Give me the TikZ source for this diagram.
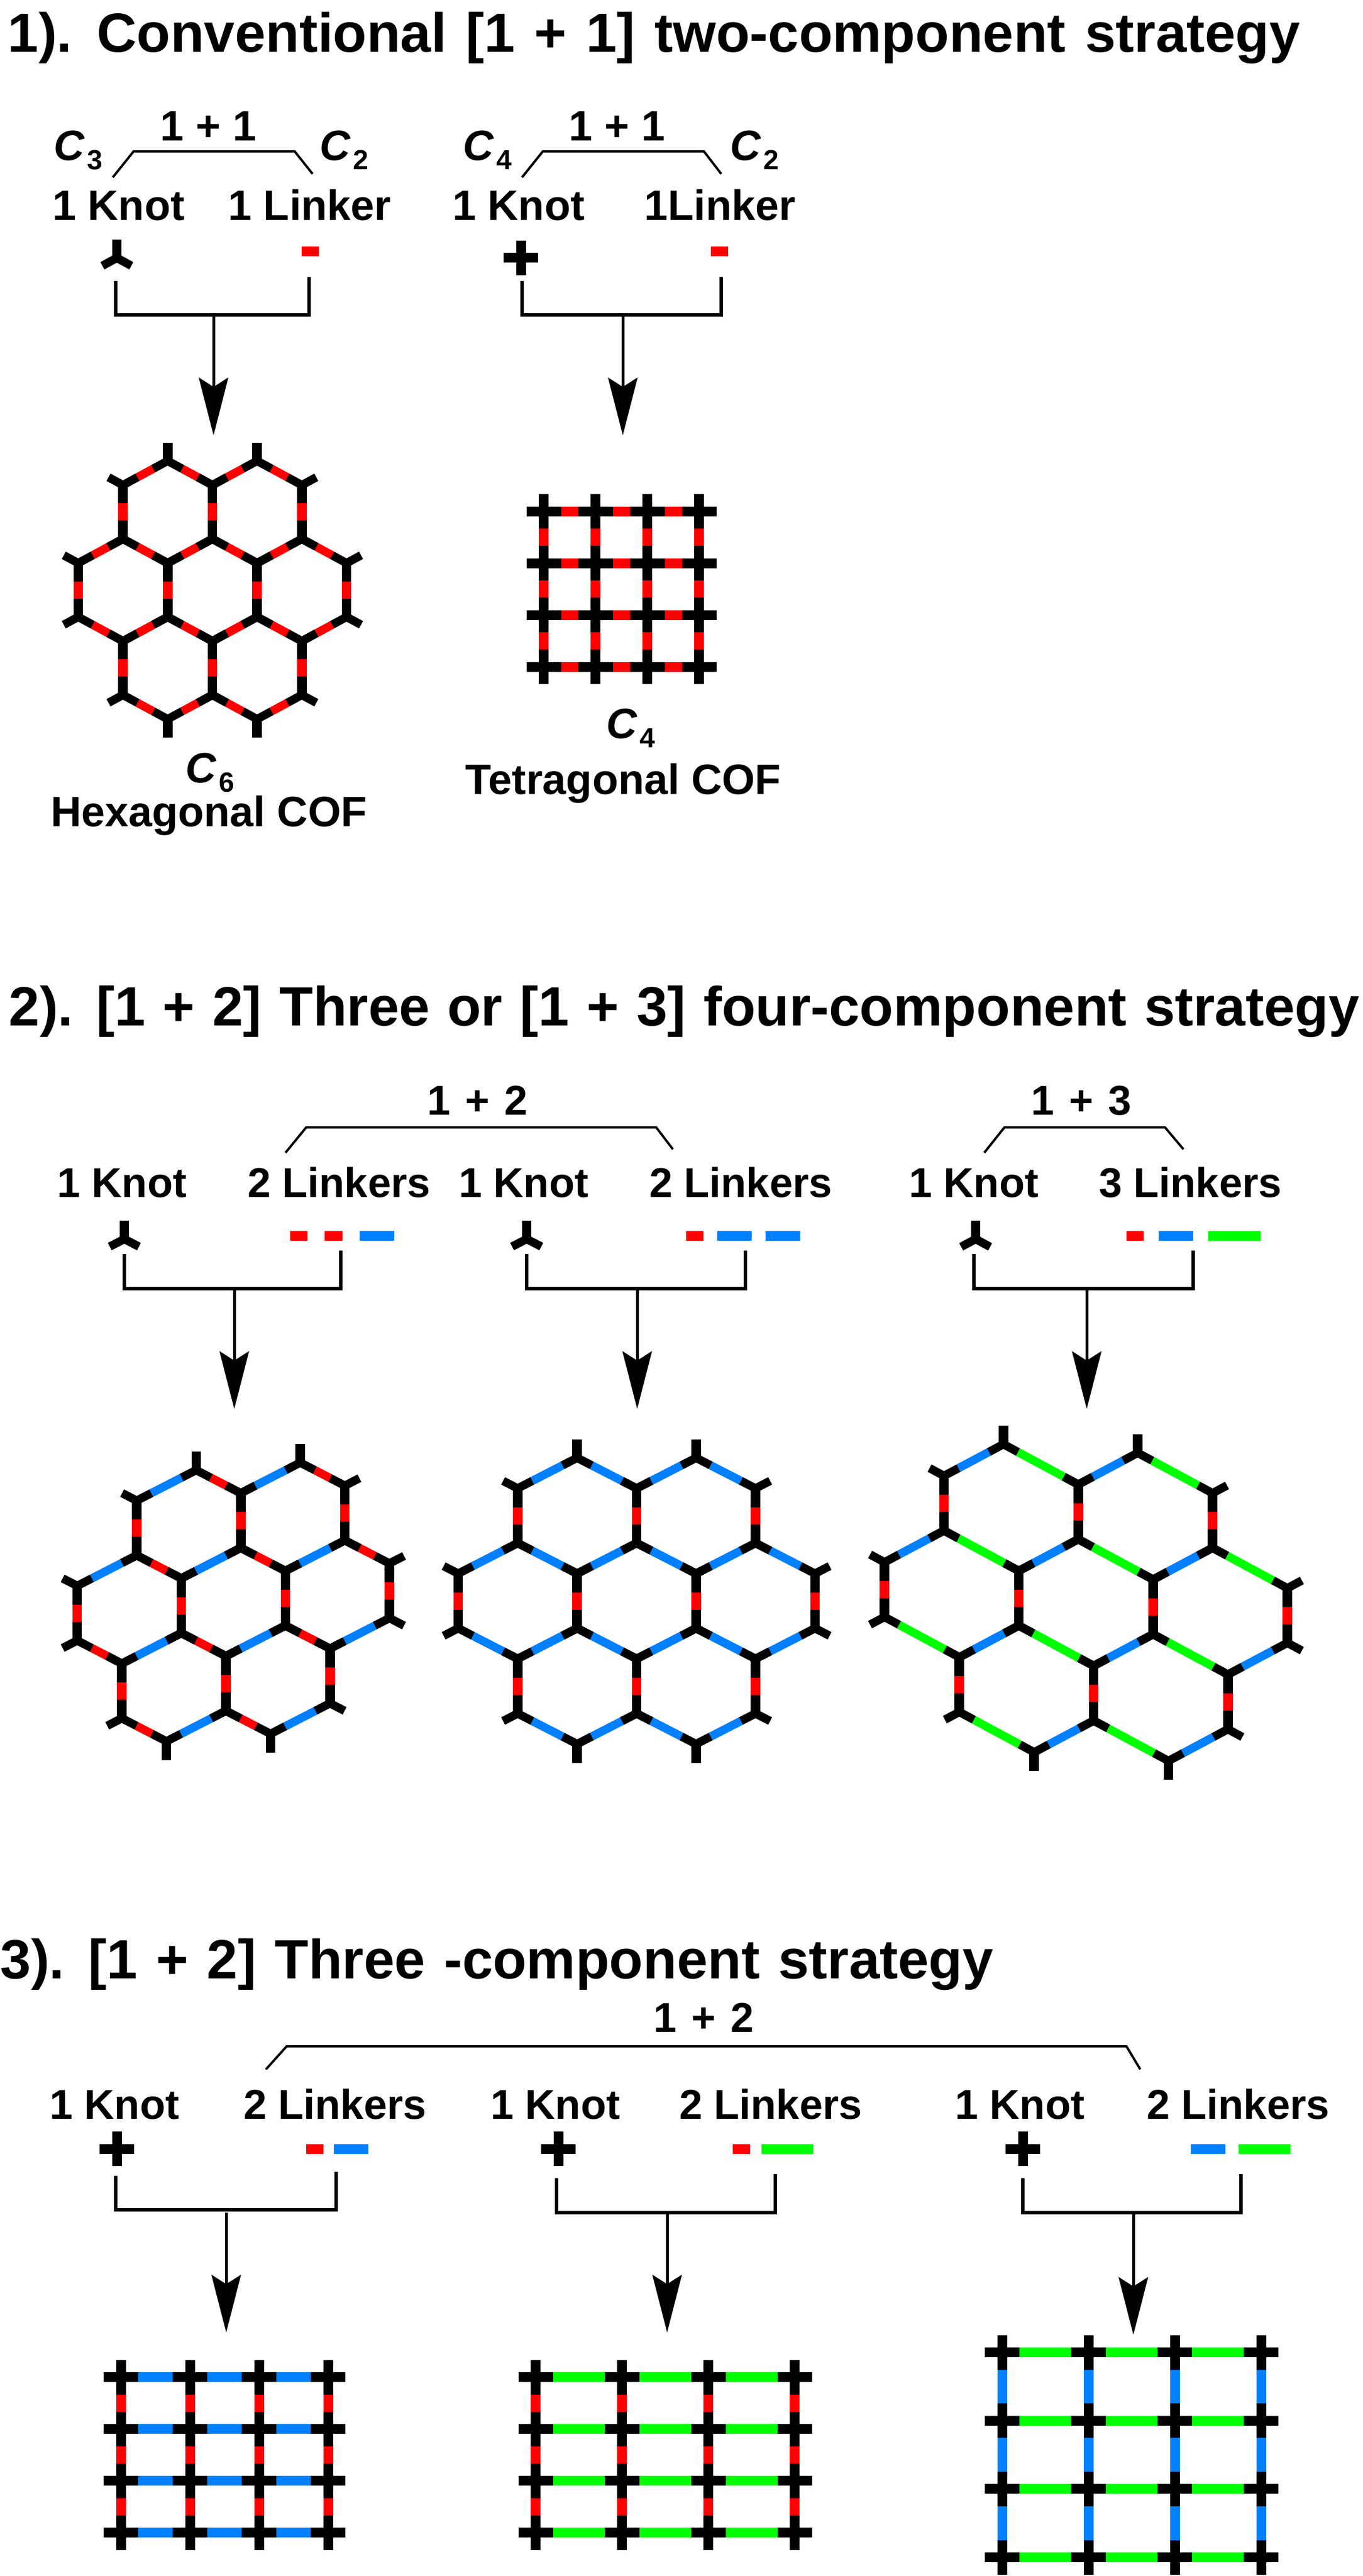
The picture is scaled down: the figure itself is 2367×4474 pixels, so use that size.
\documentclass[tikz,border=0pt]{standalone}
\usepackage{fontspec}
\setmainfont{Liberation Sans}
\usetikzlibrary{arrows.meta,calc}
\definecolor{lkred}{RGB}{255,0,0}
\definecolor{lkblue}{RGB}{0,128,255}
\definecolor{lkgreen}{RGB}{0,255,0}
\tikzstyle{headline}=[font=\fontsize{27.3}{30}\selectfont\bfseries,anchor=base west,inner sep=0pt]
\tikzstyle{tag}=[font=\fontsize{21}{24}\selectfont\bfseries,anchor=base,inner sep=0pt]
\tikzstyle{smalltag}=[tag,font=\fontsize{20.6}{24}\selectfont\bfseries]
\tikzstyle{sumtag}=[tag,font=\fontsize{20.6}{24}\selectfont\bfseries\spaceskip 7.3pt\relax]
\tikzstyle{symtag}=[tag,anchor=base west]
\tikzstyle{brace} = [draw,line width=.4mm]
\tikzstyle{tie} = [draw,line width=.55mm]
\tikzstyle{flow} = [draw,line width=.5mm,-{Stealth[length=10mm,width=5.1mm,inset=1.6mm]}]
\tikzstyle{slant}=[line width=1.45mm,line cap=butt,line join=miter]
\tikzstyle{joint}=[line width=1.65mm,line cap=butt]
\tikzstyle{bar}=[line width=1.7mm,line cap=butt]
\tikzstyle{piece}=[line width=1.7mm]
% C symbol with its index
\newcommand{\csym}[1]{{\itshape C}\kern.4mm\raisebox{-1.6mm}{\fontsize{13.7}{14}\selectfont #1}}
% edge vectors of the honeycomb: a=(#1,-#2), b=(#3,#4), c=(0,#5)
\newcommand{\setlat}[5]{%
    \def\ax{#1}\def\ay{#2}\def\bx{#3}\def\by{#4}\def\cy{#5}%
    \pgfmathsetmacro\kax{28.5*#1/veclen(#1,#2)}\pgfmathsetmacro\kay{28.5*#2/veclen(#1,#2)}%
    \pgfmathsetmacro\kbx{28.5*#3/veclen(#3,#4)}\pgfmathsetmacro\kby{28.5*#4/veclen(#3,#4)}%
    \pgfmathsetmacro\kc{(#5-30)/2}%
}
\newcommand{\upknot}[2]{%
    \draw[slant] (#1-\kax,#2+\kay) -- (#1,#2) -- (#1+\kbx,#2+\kby);
    \draw[joint] (#1,#2) -- (#1,#2-\kc);
}
\newcommand{\downknot}[2]{%
    \draw[slant] (#1+\kax,#2-\kay) -- (#1,#2) -- (#1-\kbx,#2-\kby);
    \draw[joint] (#1,#2) -- (#1,#2+\kc);
}
\newcommand{\alink}[3]{\draw[slant,#3] (#1+\kax,#2-\kay) -- (#1+\ax-\kax,#2-\ay+\kay);}
\newcommand{\blink}[3]{\draw[slant,#3] (#1+\kbx,#2+\kby) -- (#1+\bx-\kbx,#2+\by-\kby);}
\newcommand{\clink}[2]{\draw[joint,lkred] (#1,#2+\kc) -- (#1,#2+\cy-\kc);}
% one hexagon from its top vertex
\newcommand{\hexcell}[4]{%
    \pgfmathsetmacro\lx{#1-\ax}\pgfmathsetmacro\ly{#2+\ay}%
    \pgfmathsetmacro\rx{#1+\bx}\pgfmathsetmacro\ry{#2+\by}%
    \pgfmathsetmacro\lly{\ly+\cy}\pgfmathsetmacro\rly{\ry+\cy}%
    \pgfmathsetmacro\mx{\lx+\bx}\pgfmathsetmacro\my{\lly+\by}%
    \alink{\lx}{\ly}{#3} \alink{\mx}{\my}{#3}
    \blink{#1}{#2}{#4} \blink{\lx}{\lly}{#4}
    \clink{\lx}{\ly} \clink{\rx}{\ry}
    \upknot{#1}{#2} \upknot{\rx}{\rly} \upknot{\lx}{\lly}
    \downknot{\lx}{\ly} \downknot{\rx}{\ry} \downknot{\mx}{\my}
}
% seven hexagons around the top vertex (#1,#2) of the middle one
\newcommand{\hexnet}[4]{%
    \foreach \p/\q in {0/0,-1/0,1/0,0/-1,1/-1,-1/1,0/1}{
        \pgfmathsetmacro\tx{#1+\p*(\ax+\bx)+\q*\bx}
        \pgfmathsetmacro\ty{#2+\p*(\by-\ay)+\q*(\by+\cy)}
        \hexcell{\tx}{\ty}{#3}{#4}
    }
}
\newcommand{\plusknot}[2]{%
    \draw[bar] (#1-30,#2) -- (#1+30,#2);
    \draw[bar] (#1,#2-30) -- (#1,#2+30);
}
\newcommand{\gridnet}[6]{%
    \foreach \i in {0,1,2,3}{
        \foreach \j in {0,1,2,3}{
            \pgfmathsetmacro\px{#1+\i*#3}
            \pgfmathsetmacro\py{#2+\j*#4}
            \ifnum\i<3 \draw[piece,#5] (\px+30,\py) -- (\px+#3-30,\py); \fi
            \ifnum\j<3 \draw[piece,#6] (\px,\py+30) -- (\px,\py+#4-30); \fi
            \plusknot{\px}{\py}
        }
    }
}

\begin{document}
\begin{tikzpicture}[x=0.1mm,y=-0.1mm]
    \useasboundingbox (0,0) rectangle (2367,4474);
    % First the headings
    \node[headline] (head1) at (13,91) {\spaceskip=9.6pt 1). Conventional [1 + 1] two-component strategy};
    \node[headline] (head2) at (15,1781) {\spaceskip=8.7pt 2). [1 + 2] Three or [1 + 3] four-component strategy};
    \node[headline] (head3) at (0,3436) {\spaceskip=9.2pt 3). [1 + 2] Three -component strategy};

    % Labels over the building blocks
    \foreach \pos/\name/\txt in {{(362,245)/suma/1 + 1}, {(1072,245)/sumb/1 + 1},
                                 {(206,383)/knota/1 Knot}, {(538,383)/linka/1 Linker},
                                 {(901,383)/knotb/1 Knot}, {(1251,383)/linkb/1Linker},
                                 {(363,1435)/capa/Hexagonal COF}, {(1083,1379)/capb/Tetragonal COF}}
        \node[tag] (\name) at \pos {\txt};
    \foreach \pos/\name/\idx in {{(93,279)/cha/3}, {(555,279)/chb/2}, {(804,279)/chc/4},
                                 {(1268,279)/chd/2}, {(322,1359)/che/6}, {(1053,1282)/chf/4}}
        \node[symtag] (\name) at \pos {\csym{\idx}};
    \foreach \pos/\name/\txt in {{(830,1936)/sumc/1 + 2}, {(1879,1936)/sumd/1 + 3},
                                 {(1223,3529)/sume/1 + 2}}
        \node[sumtag] (\name) at \pos {\txt};
    \foreach \pos/\name/\txt in {{(212,2079)/knotc/1 Knot}, {(589,2079)/linkc/2 Linkers},
                                 {(910,2079)/knotd/1 Knot}, {(1287,2079)/linkd/2 Linkers},
                                 {(1692,2079)/knote/1 Knot}, {(2068,2079)/linke/3 Linkers},
                                 {(199,3680)/knotf/1 Knot}, {(582,3680)/linkf/2 Linkers},
                                 {(965,3680)/knotg/1 Knot}, {(1339,3680)/linkg/2 Linkers},
                                 {(1772,3680)/knoth/1 Knot}, {(2151,3680)/linkh/2 Linkers}}
        \node[smalltag] (\name) at \pos {\txt};

    % Open brackets under the sums
    \foreach \name/\xa/\ya/\xb/\yt/\xc/\xd/\yd in {upa/196/308/232/263/512/543/302,
                                                   upb/907/308/943/263/1223/1253/302,
                                                   upc/496/2002/532/1958/1140/1169/1996,
                                                   upd/1710/2002/1745/1958/2024/2056/1996,
                                                   upe/462/3594/498/3554/1957/1981/3594}{
        \coordinate (\name-a) at (\xa,\ya);
        \coordinate (\name-b) at (\xb,\yt);
        \coordinate (\name-c) at (\xc,\yt);
        \coordinate (\name-d) at (\xd,\yd);
        \draw[brace] (\name-a) -- (\name-b) -- (\name-c) -- (\name-d);
    }

    % Joining brackets and arrows
    \foreach \name/\xl/\yl/\xr/\yr/\yb/\xm/\ym/\yt in {joa/201/488/537/481/547/371/547/756,
                                                       job/907/488/1253/481/547/1082/547/756,
                                                       joc/216/2178/592/2172/2238/407/2238/2447,
                                                       jod/915/2178/1295/2172/2238/1107/2238/2447,
                                                       joe/1692/2178/2073/2172/2238/1888/2238/2447,
                                                       jof/201/3779/584/3772/3838/393/3843/4051,
                                                       jog/967/3783/1347/3776/3843/1159/3846/4051,
                                                       joh/1777/3783/2156/3776/3843/1969/3846/4055}{
        \coordinate (\name-l) at (\xl,\yl);
        \coordinate (\name-r) at (\xr,\yr);
        \coordinate (\name-c) at (\xr,\yb);
        \coordinate (\name-m) at (\xm,\ym);
        \coordinate (\name-t) at (\xm,\yt);
        \draw[tie] (\name-l) |- (\name-c) -- (\name-r);
        \draw[flow] (\name-m) -- (\name-t);
    }

    % Linker pieces
    \foreach \xa/\xb/\yy/\col in {524/554/437/lkred, 1235/1265/437/lkred,
                                  504/534/2146/lkred, 564/595/2146/lkred, 625/685/2146/lkblue,
                                  1192/1222/2146/lkred, 1246/1306/2146/lkblue, 1330/1390/2146/lkblue,
                                  1957/1987/2146/lkred, 2013/2073/2146/lkblue, 2099/2190/2146/lkgreen,
                                  532/562/3732/lkred, 580/640/3732/lkblue,
                                  1273/1303/3732/lkred, 1323/1413/3732/lkgreen,
                                  2069/2129/3732/lkblue, 2152/2242/3732/lkgreen}
        \draw[piece,\col] (\xa,\yy) -- (\xb,\yy);

    % Square knots
    \foreach \xx/\yy in {905/448, 203/3732, 970/3732, 1777/3732}{
        \plusknot{\xx}{\yy}
    }

    % Honeycomb of the first row
    \setlat{77.7}{42}{77.7}{42}{93.5}
    \upknot{203}{448}
    \hexnet{369}{936}{lkred}{lkred}
    % Square net of the first row
    \gridnet{944.5}{888}{90}{90}{lkred}{lkred}

    % Honeycombs of the second row
    \setlat{103.3}{53}{77.5}{40}{95}
    \upknot{216}{2152}
    \hexnet{418.3}{2688.3}{lkblue}{lkred}
    \setlat{103.3}{53}{103.3}{53}{95}
    \upknot{915}{2152}
    \hexnet{1106}{2680}{lkblue}{lkblue}
    \setlat{103.3}{55}{130}{70}{95}
    \upknot{1695}{2152}
    \hexnet{1873.3}{2673.3}{lkblue}{lkgreen}

    % Square nets of the third row
    \gridnet{210.4}{4128.5}{120}{90}{lkblue}{lkred}
    \gridnet{930.6}{4128.5}{150}{90}{lkgreen}{lkred}
    \gridnet{1741}{4085.5}{150}{118.7}{lkgreen}{lkblue}
\end{tikzpicture}
\end{document}
